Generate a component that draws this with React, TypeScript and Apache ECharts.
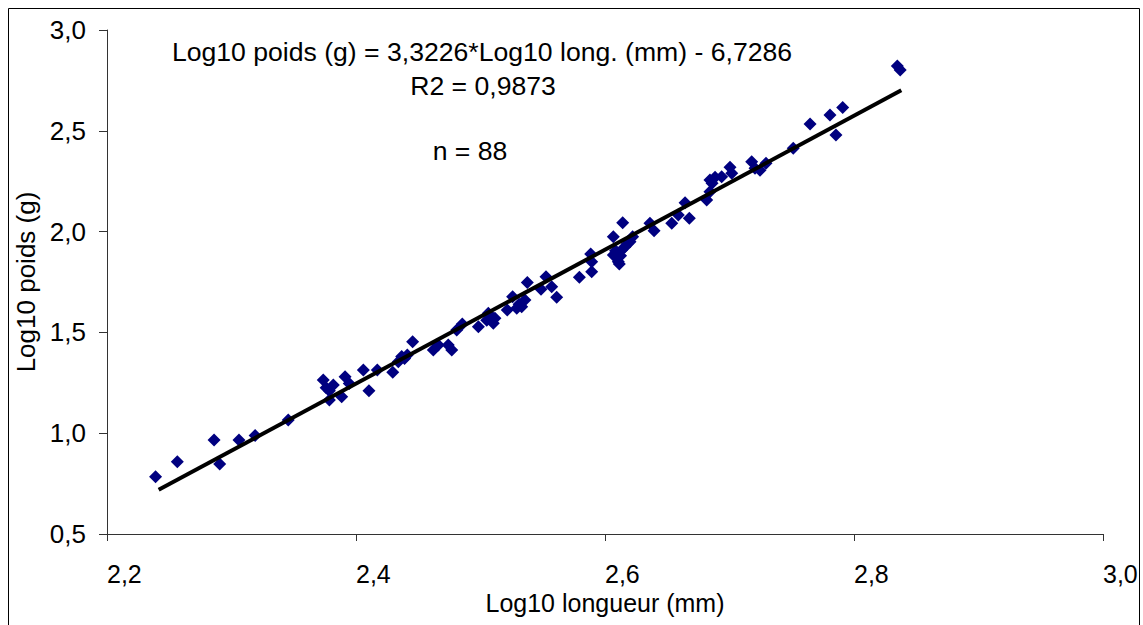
import React, { useEffect, useRef } from "react";
import * as echarts from "echarts";

// Log10 longueur (mm) / Log10 poids (g) pairs
const logLength: number[] = [
  2.239, 2.2565, 2.286, 2.2905, 2.306, 2.319, 2.3456, 2.3737, 2.3818, 2.3786,
  2.3786, 2.3912, 2.3946, 2.3885, 2.4059, 2.4104, 2.4171, 2.4295, 2.434, 2.4367,
  2.4412, 2.4455, 2.4621, 2.4661, 2.4741, 2.4769, 2.4809, 2.4854, 2.4983, 2.5063,
  2.5116, 2.5103, 2.5215, 2.5258, 2.5291, 2.5331, 2.5357, 2.5376, 2.5486, 2.5526,
  2.5572, 2.5612, 2.5794, 2.5893, 2.5893, 2.5885, 2.6067, 2.6142, 2.6067, 2.6107,
  2.6115, 2.61, 2.6134, 2.6161, 2.6201, 2.6222, 2.6361, 2.6394, 2.6536, 2.6589,
  2.6643, 2.6677, 2.6817, 2.6843, 2.6843, 2.6884, 2.6937, 2.7004, 2.7018, 2.7178,
  2.7205, 2.7245, 2.7293, 2.7512, 2.7647, 2.7807, 2.7855, 2.7909, 2.8348, 2.8371,
  2.6085, 2.6125, 2.618, 2.376, 2.439, 2.505, 2.531, 2.686,
];
const logWeight: number[] = [
  0.784, 0.859, 0.966, 0.847, 0.966, 0.988, 1.065, 1.264, 1.239, 1.211,
  1.165, 1.28, 1.247, 1.181, 1.313, 1.211, 1.313, 1.302, 1.355, 1.38,
  1.388, 1.454, 1.413, 1.437, 1.437, 1.413, 1.512, 1.542, 1.528, 1.595,
  1.57, 1.545, 1.611, 1.677, 1.62, 1.627, 1.661, 1.747, 1.714, 1.776,
  1.727, 1.674, 1.773, 1.801, 1.851, 1.889, 1.975, 2.044, 1.884, 1.851,
  1.839, 1.868, 1.909, 1.925, 1.95, 1.975, 2.041, 2.004, 2.041, 2.082,
  2.143, 2.066, 2.157, 2.198, 2.256, 2.269, 2.272, 2.319, 2.289, 2.347,
  2.314, 2.304, 2.339, 2.413, 2.534, 2.578, 2.479, 2.615, 2.821, 2.802,
  1.905, 1.88, 1.94, 1.225, 1.37, 1.56, 1.64, 2.24,
];

// trend line end points
const trendX: number[] = [2.2415, 2.838];
const trendY: number[] = [0.719, 2.701];

const xTicks = { min: 2.2, max: 3.0, interval: 0.2 };
const yTicks = { min: 0.5, max: 3.0, interval: 0.5 };

const equationText = "Log10 poids (g) = 3,3226*Log10 long. (mm) - 6,7286";
const r2Text = "R2 = 0,9873";
const nText = "n = 88";
const xTitle = "Log10 longueur (mm)";
const yTitle = "Log10 poids (g)";

const FONT = "'Liberation Sans', Arial, sans-serif";

export default function App() {
  const ref = useRef<HTMLDivElement>(null);
  useEffect(() => {
    if (!ref.current) return;
    const chart = echarts.init(ref.current, null, { renderer: "svg" });
    const fmt = (v: number) => v.toFixed(1).replace(".", ",");
    chart.setOption({
      animation: false,
      backgroundColor: "#ffffff",
      grid: { left: 107, right: 40, top: 30, bottom: 91, containLabel: false },
      xAxis: {
        type: "value",
        min: xTicks.min,
        max: xTicks.max,
        interval: xTicks.interval,
        name: xTitle,
        nameLocation: "middle",
        nameGap: 56,
        nameTextStyle: { color: "#000", fontSize: 25, fontFamily: FONT },
        axisLine: { show: true, lineStyle: { color: "#333", width: 1 } },
        axisTick: { show: true, inside: false, length: 7, lineStyle: { color: "#333" } },
        axisLabel: {
          formatter: fmt,
          color: "#000",
          fontSize: 25,
          fontFamily: FONT,
          margin: 27,
          align: "left",
          showMaxLabel: true,
          showMinLabel: true,
        },
        splitLine: { show: false },
      },
      yAxis: {
        type: "value",
        min: yTicks.min,
        max: yTicks.max,
        interval: yTicks.interval,
        name: yTitle,
        nameLocation: "middle",
        nameRotate: 90,
        nameGap: 62,
        nameTextStyle: { color: "#000", fontSize: 26, fontFamily: FONT },
        axisLine: { show: true, lineStyle: { color: "#333", width: 1 } },
        axisTick: { show: true, inside: false, length: 8, lineStyle: { color: "#333" } },
        axisLabel: {
          formatter: fmt,
          color: "#000",
          fontSize: 26,
          fontFamily: FONT,
          margin: 21,
        },
        splitLine: { show: false },
      },
      graphic: [
        {
          type: "rect",
          shape: { x: 8.5, y: 8.5, width: 1131, height: 700 },
          style: { fill: "none", stroke: "#000", lineWidth: 1 },
          silent: true,
          z: 100,
        },
        {
          type: "text",
          x: 482,
          y: 52,
          style: {
            text: equationText,
            fill: "#000",
            font: `26.6px ${FONT}`,
            align: "center",
            verticalAlign: "middle",
          },
        },
        {
          type: "text",
          x: 483,
          y: 86,
          style: {
            text: r2Text,
            fill: "#000",
            font: `26.6px ${FONT}`,
            align: "center",
            verticalAlign: "middle",
          },
        },
        {
          type: "text",
          x: 470,
          y: 151,
          style: {
            text: nText,
            fill: "#000",
            font: `26.6px ${FONT}`,
            align: "center",
            verticalAlign: "middle",
          },
        },
      ],
      series: [
        {
          type: "line",
          data: trendX.map((x, i) => [x, trendY[i]]),
          showSymbol: false,
          symbol: "none",
          lineStyle: { color: "#000", width: 4 },
          z: 3,
        },
        {
          type: "scatter",
          data: logLength.map((x, i) => [x, logWeight[i]]),
          symbol: "diamond",
          symbolSize: 13,
          itemStyle: { color: "#000080", opacity: 1 },
          z: 2,
        },
      ],
    });
    return () => chart.dispose();
  }, []);
  return (
    <div
      ref={ref}
      style={{ position: "fixed", left: 0, top: 0, width: 1143, height: 625 }}
    />
  );
}
